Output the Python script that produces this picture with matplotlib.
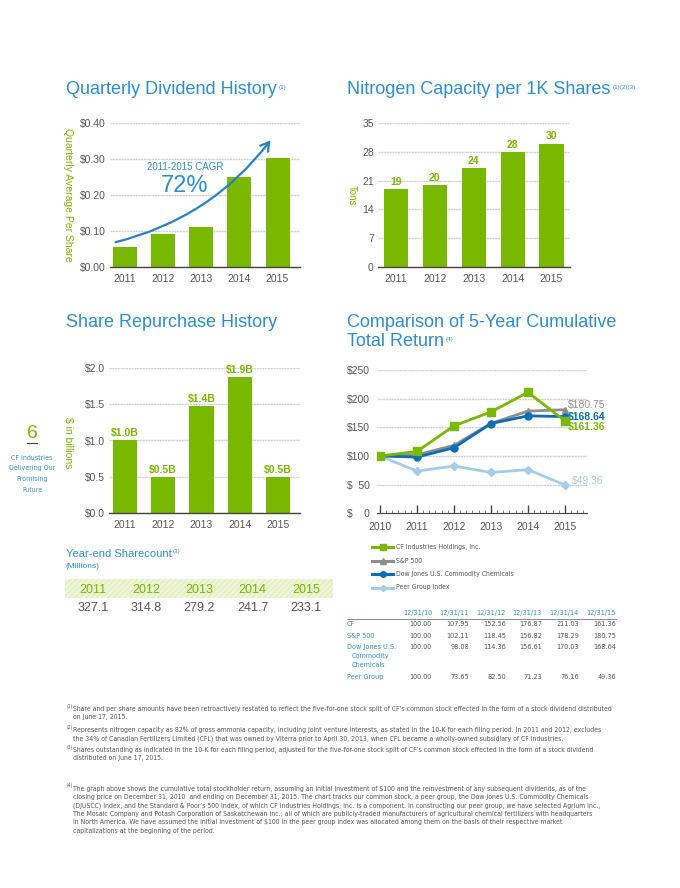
import matplotlib
matplotlib.use('Agg')
import matplotlib.pyplot as plt
from matplotlib.patches import FancyArrowPatch, Rectangle
from matplotlib.lines import Line2D
from matplotlib import font_manager as fm
import numpy as np

plt.rcParams['text.parse_math'] = False
plt.rcParams['font.family'] = ['Liberation Sans', 'DejaVu Sans']

# ---------------- data ----------------
years = [2011, 2012, 2013, 2014, 2015]
dividend = [0.056, 0.091, 0.110, 0.250, 0.302]
nitrogen = [19, 20, 24, 28, 30]
repurchase = [1.0, 0.5, 1.47, 1.88, 0.5]
repurchase_labels = ['$1.0B', '$0.5B', '$1.4B', '$1.9B', '$0.5B']
sharecount = [327.1, 314.8, 279.2, 241.7, 233.1]

tr_years = [2010, 2011, 2012, 2013, 2014, 2015]
tr_dates = ['12/31/10', '12/31/11', '12/31/12', '12/31/13', '12/31/14', '12/31/15']
cf = [100.00, 107.95, 152.56, 176.87, 211.03, 161.36]
sp500 = [100.00, 102.11, 118.45, 156.82, 178.29, 180.75]
djusc = [100.00, 98.08, 114.36, 156.61, 170.03, 168.64]
peer = [100.00, 73.65, 82.50, 71.23, 76.16, 49.36]
series_names = ['CF Industries Holdings, Inc.', 'S&P 500',
                'Dow Jones U.S. Commodity Chemicals', 'Peer Group Index']
row_labels = [['CF'], ['S&P 500'], ['Dow Jones U.S.', 'Commodity', 'Chemicals'], ['Peer Group']]

footnotes = [
    ['Share and per share amounts have been retroactively restated to reflect the five-for-one stock split of CF\u2019s common stock effected in the form of a stock dividend distributed',
     'on June 17, 2015.'],
    ['Represents nitrogen capacity as 82% of gross ammonia capacity, including joint venture interests, as stated in the 10-K for each filing period. In 2011 and 2012, excludes',
     'the 34% of Canadian Fertilizers Limited (CFL) that was owned by Viterra prior to April 30, 2013, when CFL became a wholly-owned subsidiary of CF Industries.'],
    ['Shares outstanding as indicated in the 10-K for each filing period, adjusted for the five-for-one stock split of CF\u2019s common stock effected in the form of a stock dividend',
     'distributed on June 17, 2015.'],
    ['The graph above shows the cumulative total stockholder return, assuming an initial investment of $100 and the reinvestment of any subsequent dividends, as of the',
     'closing price on December 31, 2010  and ending on December 31, 2015. The chart tracks our common stock, a peer group, the Dow Jones U.S. Commodity Chemicals',
     '(DJUSCC) Index, and the Standard & Poor\u2019s 500 Index, of which CF Industries Holdings, Inc. is a component. In constructing our peer group, we have selected Agrium Inc.,',
     'The Mosaic Company and Potash Corporation of Saskatchewan Inc., all of which are publicly-traded manufacturers of agricultural chemical fertilizers with headquarters',
     'in North America. We have assumed the initial investment of $100 in the peer group index was allocated among them on the basis of their respective market',
     'capitalizations at the beginning of the period.'],
]

# ---------------- style ----------------
W, H = 680, 888
BLUE = '#2e8dd0'
DBLUE = '#0b6db3'
GREEN = '#79b800'
GREY = '#555555'
LGREY = '#d0d0d0'
TITLE = ['Liberation Sans', 'DejaVu Sans']

# pick a condensed face if one is installed
NARROW_FAMILY = ['Liberation Sans', 'DejaVu Sans']
NARROW_STRETCH = 'normal'
for f in fm.fontManager.ttflist:
    if f.name in ('Noto Sans', 'DejaVu Sans', 'Open Sans', 'Roboto') and \
            ('ondensed' in f.fname or 'Cond' in f.fname) and f.weight in (400, 'normal', 'regular'):
        NARROW_FAMILY = [f.name]
        NARROW_STRETCH = f.stretch
        break

fig = plt.figure(figsize=(6.8, 8.88), dpi=100)
fig.canvas.draw()
RENDERER = fig.canvas.get_renderer()


def ax_px(l, t, r, b):
    return fig.add_axes([l / W, 1 - b / H, (r - l) / W, (b - t) / H])


def txt(x, y, s, **kw):
    kw.setdefault('family', TITLE)
    return fig.text(x / W, 1 - y / H, s, **kw)


def fit_size(s, target_px, **kw):
    """font size (pt) that makes string s target_px wide in the narrow face"""
    t = fig.text(0, 0, s, fontsize=10, family=NARROW_FAMILY, fontstretch=NARROW_STRETCH, **kw)
    w = t.get_window_extent(renderer=RENDERER).width
    t.remove()
    return 10 * target_px / w


def ntxt(x, y, s, size, **kw):
    return txt(x, y, s, family=NARROW_FAMILY, fontstretch=NARROW_STRETCH, fontsize=size, **kw)


def title(x, y, s, sup=None):
    t = txt(x, y, s, fontsize=13, color=BLUE, va='baseline')
    if sup:
        bb = t.get_window_extent(renderer=RENDERER)
        txt(bb.x1 + 2, H - bb.y1 + 4, sup, fontsize=4.5, color=BLUE, va='top')
    return t


def style_bar_ax(ax, xl, ymax, step, fmt):
    ax.set_xlim(*xl)
    ax.set_ylim(0, ymax)
    ticks = np.arange(0, ymax + step / 2, step)
    ax.set_yticks(ticks)
    ax.set_yticklabels([fmt(t) for t in ticks])
    ax.set_xticks(range(len(years)))
    ax.set_xticklabels([str(y) for y in years])
    for s in ['top', 'right', 'left']:
        ax.spines[s].set_visible(False)
    ax.spines['bottom'].set_color('#444444')
    ax.spines['bottom'].set_linewidth(1.0)
    ax.tick_params(axis='both', length=0, labelsize=7.5, colors=GREY)
    ax.tick_params(axis='x', pad=5)
    ax.tick_params(axis='y', pad=3)
    ax.grid(axis='y', color=LGREY, lw=1.0, linestyle=(0, (1.5, 0.5)))
    ax.set_axisbelow(True)
    ax.patch.set_alpha(0)


# ---------------- chart 1: dividend ----------------
title(66, 94, 'Quarterly Dividend History', '(1)')
ax1 = ax_px(110, 123, 300, 267)
x = np.arange(len(years))
ax1.bar(x, dividend, width=0.63, color=GREEN, zorder=2)
style_bar_ax(ax1, (-0.395, 4.59), 0.40, 0.10, lambda v: f'${v:.2f}')
txt(68, 195, 'Quarterly Average Per Share', rotation=270, fontsize=7.5, color=GREEN,
    ha='center', va='center')
arr = FancyArrowPatch((-0.32, 0.067), (3.86, 0.358), transform=ax1.transData,
                      connectionstyle='arc3,rad=0.18', arrowstyle='->,head_length=6,head_width=3.5',
                      color='#2a80c4', lw=1.6, zorder=3, clip_on=False)
ax1.add_patch(arr)
txt(185, 167, '2011-2015 CAGR', fontsize=7, color=BLUE, ha='center', va='center')
txt(185, 186, '72%', fontsize=17, color=BLUE, ha='center', va='center')

# ---------------- chart 2: nitrogen ----------------
title(347, 94, 'Nitrogen Capacity per 1K Shares', '(1)(2)(3)')
ax2 = ax_px(378, 123, 570, 267)
ax2.bar(x, nitrogen, width=0.62, color=GREEN, zorder=2)
style_bar_ax(ax2, (-0.463, 4.476), 35, 7, lambda v: f'{int(v)}')
for xi, v in zip(x, nitrogen):
    ax2.annotate(str(v), (xi, v), xytext=(0, 1.5), textcoords='offset points',
                 ha='center', va='bottom', fontsize=7.5, fontweight='bold', color=GREEN)
txt(352, 195, 'Tons', rotation=270, fontsize=7, color=GREEN, ha='center', va='center')

# ---------------- chart 3: repurchase ----------------
title(66, 327, 'Share Repurchase History')
ax3 = ax_px(109, 368, 300, 513)
ax3.bar(x, repurchase, width=0.63, color=GREEN, zorder=2)
style_bar_ax(ax3, (-0.418, 4.575), 2.0, 0.5, lambda v: f'${v:.1f}')
for xi, v, lab in zip(x, repurchase, repurchase_labels):
    ax3.annotate(lab, (xi, v), xytext=(0, 1.5), textcoords='offset points',
                 ha='center', va='bottom', fontsize=7.5, fontweight='bold', color=GREEN)
txt(68, 443, '$ in billions', rotation=270, fontsize=7.5, color=GREEN, ha='center', va='center')

# left margin page marker
txt(32, 433, '6', fontsize=14, color=GREEN, ha='center', va='center')
fig.add_artist(Line2D([27 / W, 37 / W], [1 - 443 / H, 1 - 443 / H], color='#444444', lw=0.8))
margin_lines = ['CF Industries', 'Delivering Our', 'Promising', 'Future']
ms_ = fit_size(margin_lines[1], 46)
for i, s in enumerate(margin_lines):
    ntxt(32, 457.7 + 10.7 * i, s, ms_, color=BLUE, ha='center', va='center')

# ---------------- sharecount table ----------------
t = txt(66, 554, 'Year-end Sharecount', fontsize=8, color=BLUE, va='center')
bb = t.get_window_extent(renderer=RENDERER)
txt(bb.x1 + 1, H - bb.y1 + 0.5, '(3)', fontsize=4.5, color=BLUE, va='top')
txt(66, 566, '(Millions)', fontsize=6, color=BLUE, va='center')
fig.add_artist(Rectangle((65 / W, 1 - 598 / H), (333 - 65) / W, 19 / H,
                         transform=fig.transFigure, facecolor='#eef6da',
                         edgecolor='#e0eec0', hatch='//////', lw=0))
for i, (yr, v) in enumerate(zip(years, sharecount)):
    cx = 93 + 53.2 * i
    txt(cx, 590, str(yr), fontsize=9, color=GREEN, ha='center', va='center')
    txt(cx, 608, f'{v:.1f}', fontsize=9, color=GREY, ha='center', va='center')

# ---------------- chart 4: total return ----------------
txt(347, 327, 'Comparison of 5-Year Cumulative', fontsize=13, color=BLUE, va='baseline')
title(347, 346, 'Total Return', '(4)')
ax4 = ax_px(377, 370, 587, 513.3)
l_peer, = ax4.plot(tr_years, peer, color='#a3cdea', lw=2.0, marker='D', ms=4, zorder=3)
l_sp, = ax4.plot(tr_years, sp500, color='#8e8e8e', lw=2.0, marker='^', ms=5, zorder=4)
l_dj, = ax4.plot(tr_years, djusc, color=DBLUE, lw=2.0, marker='o', ms=5, zorder=5)
l_cf, = ax4.plot(tr_years, cf, color=GREEN, lw=2.0, marker='s', ms=6, zorder=6)
ax4.set_xlim(2009.919, 2015.595)
ax4.set_ylim(0, 250)
ax4.set_yticks([0, 50, 100, 150, 200, 250])
ax4.set_yticklabels(['$\u2007\u20070', '$\u200750', '$100', '$150', '$200', '$250'])
ax4.set_xticks(tr_years)
ax4.set_xticklabels([str(y) for y in tr_years])
ax4.set_xticks(np.arange(2010, 2015.6, 1 / 6), minor=True)
for s in ['top', 'right', 'left']:
    ax4.spines[s].set_visible(False)
ax4.spines['bottom'].set_color('#444444')
ax4.tick_params(axis='y', length=0, labelsize=7.5, colors=GREY, pad=5)
ax4.tick_params(axis='x', which='major', direction='in', length=6, width=1, color='#444444',
                labelsize=7.5, labelcolor=GREY, pad=6.5)
ax4.tick_params(axis='x', which='minor', direction='in', length=2, width=0.6, color='#666666')
ax4.grid(axis='y', color=LGREY, lw=1.0, linestyle=(0, (1.5, 0.5)))
ax4.set_axisbelow(True)
ax4.patch.set_alpha(0)

end_offsets = [(sp500, '#8e8e8e', (2, 3.5), 'normal'),
               (djusc, DBLUE, (2, 0), 'bold'),
               (cf, GREEN, (2, -4.5), 'bold'),
               (peer, '#a3cdea', (5, 3), 'normal')]
for vals, col, off, fw in end_offsets:
    ax4.annotate(f'${vals[-1]:.2f}', (tr_years[-1], vals[-1]), xytext=off,
                 textcoords='offset points', ha='left', va='center', fontsize=7.5,
                 color=col, fontweight=fw, annotation_clip=False)

# legend
leg_size = fit_size(series_names[0], 84)
leg_y = [547, 560.5, 574, 587.5]
for yp, ln, name in zip(leg_y, [l_cf, l_sp, l_dj, l_peer], series_names):
    yy = 1 - yp / H
    fig.add_artist(Line2D([372 / W, 382.5 / W, 393 / W], [yy, yy, yy], color=ln.get_color(),
                          lw=2.2, marker=ln.get_marker(), ms=ln.get_markersize() * 0.8,
                          markevery=[1]))
    ntxt(396, yp, name, leg_size, color=GREY, va='center')

# total return table
tab_size = fit_size(tr_dates[0], 29)
col_right = [432, 469, 506, 542, 579, 616]
for cx, d in zip(col_right, tr_dates):
    ntxt(cx, 613, d, tab_size, color=BLUE, ha='right', va='center')
fig.add_artist(Line2D([347 / W, 616 / W], [1 - 618.5 / H, 1 - 618.5 / H], color='#777777', lw=0.6))
row_y = [624.3, 636, 647.3, 676.7]
for ry, labs, vals in zip(row_y, row_labels, [cf, sp500, djusc, peer]):
    for j, lab in enumerate(labs):
        ntxt(347 if j == 0 else 352, ry + 9 * j, lab, tab_size, color=BLUE, va='center')
    for cx, v in zip(col_right, vals):
        ntxt(cx, ry, f'{v:.2f}', tab_size, color=GREY, ha='right', va='center')

# ---------------- footnotes ----------------
fn_size = fit_size(footnotes[0][0], 537)
note_y = [709, 730, 750, 789]
for k, (ny, lines) in enumerate(zip(note_y, footnotes)):
    ntxt(67, ny - 3, f'({k + 1})', 3.5, color=GREY, va='center')
    for j, ln in enumerate(lines):
        ntxt(73, ny + 8.3 * j, ln, fn_size, color=GREY, va='center')

fig.savefig('out.png', dpi=100)
